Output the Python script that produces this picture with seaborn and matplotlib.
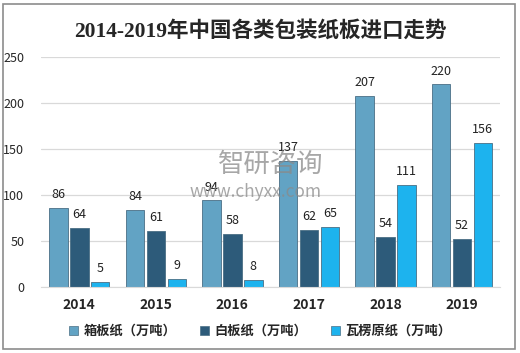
import pandas as pd
import seaborn as sns
import matplotlib.pyplot as plt
from matplotlib.patches import Rectangle

years = ["2014", "2015", "2016", "2017", "2018", "2019"]
series = ["箱板纸（万吨）", "白板纸（万吨）", "瓦楞原纸（万吨）"]
xiangban = [86, 84, 94, 137, 207, 220]
baiban = [64, 61, 58, 62, 54, 52]
waleng = [5, 9, 8, 65, 111, 156]
colors = ["#62a3c4", "#2d5b7a", "#1db3ee"]

df = pd.DataFrame({"年份": years * 3,
                   "系列": [s for s in series for _ in years],
                   "数值": xiangban + baiban + waleng})

sns.set_style("white")
plt.rcParams['font.family'] = ['Noto Sans CJK SC', 'DejaVu Sans']

fig = plt.figure(figsize=(5.2, 3.53), dpi=100)
ax = fig.add_axes([0.079, 0.187, 0.883, 0.652])
sns.barplot(data=df, x="年份", y="数值", hue="系列", palette=colors, saturation=1,
            width=0.82, gap=0.12, edgecolor="#4a6f85", linewidth=0.6, ax=ax, legend=False)

for cont in ax.containers:
    ax.bar_label(cont, fmt="%d", padding=5, fontsize=9, color="#222222")

ax.set_ylim(0, 250)
ax.set_yticks(range(0, 251, 50))
ax.yaxis.grid(True, color="#d9d9d9", linewidth=0.9)
ax.set_axisbelow(True)
for s in ["top", "right", "left"]:
    ax.spines[s].set_visible(False)
ax.spines["bottom"].set_color("#d9d9d9")
ax.set_xlabel("")
ax.set_ylabel("")
ax.tick_params(axis="y", length=0, labelsize=9, pad=12)
ax.tick_params(axis="x", length=0, labelsize=10, pad=8)
for t in ax.get_xticklabels():
    t.set_fontweight("bold")

handles = [Rectangle((0, 0), 1, 1, facecolor=c, edgecolor="#4a6f85", linewidth=0.5) for c in colors]
fig.legend(handles, series, loc="center", bbox_to_anchor=(0.5, 0.062), ncol=3, frameon=False,
           handlelength=0.7, handleheight=0.7, columnspacing=1.8, handletextpad=0.4,
           prop={"family": ["Noto Sans CJK SC"], "weight": "bold", "size": 9.5})

fig.text(0.5, 0.912, "2014-2019年中国各类包装纸板进口走势", ha="center", va="center",
         fontsize=15.5, fontweight="bold", family=["Liberation Serif", "Noto Sans CJK SC"])

# watermark
fig.text(0.42, 0.535, "智研咨询", fontsize=19, color="#8a8a8a", alpha=0.75, ha="left", va="center")
fig.text(0.365, 0.455, "www.chyxx.com", fontsize=12.5, color="#8a8a8a", alpha=0.75, ha="left", va="center")

fig.patches.append(Rectangle((0.006, 0.01), 0.985, 0.98, transform=fig.transFigure,
                             fill=False, edgecolor="#8c8c8c", linewidth=1.2))

plt.savefig("out.png", dpi=100)
